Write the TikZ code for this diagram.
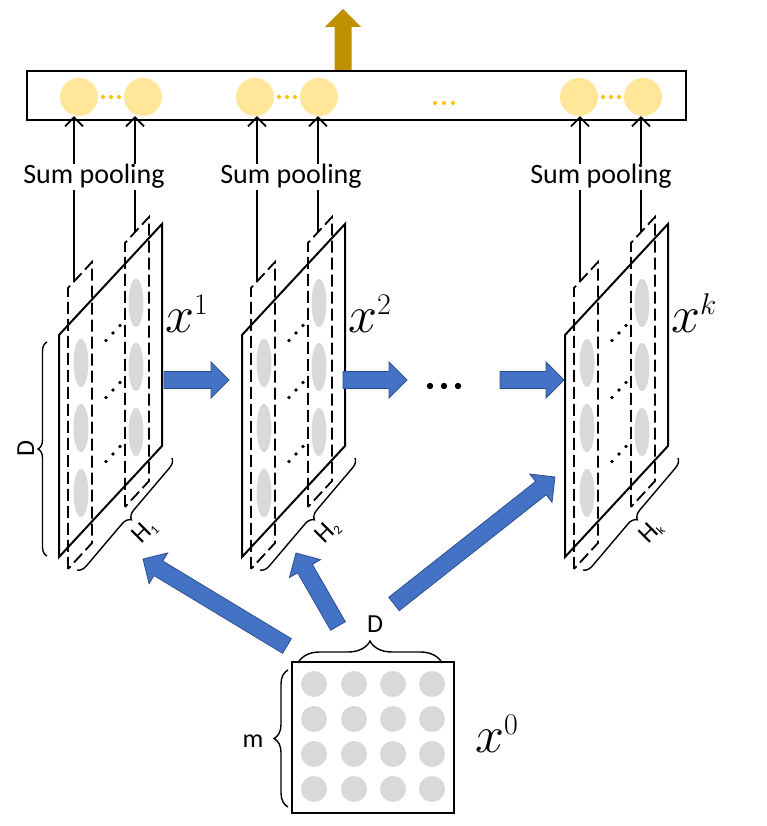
\documentclass[tikz,border=0pt]{standalone}
\usepackage{fix-cm}
\usepackage{fontspec}
\setmainfont{Carlito}
\usetikzlibrary{arrows.meta, positioning, calc, decorations.pathreplacing}

\definecolor{boxblue}{HTML}{4472C4}
\definecolor{edgeblue}{HTML}{2F528F}
\definecolor{cellgray}{HTML}{D9D9D9}
\definecolor{poolyellow}{HTML}{FFE699}
\definecolor{dotorange}{HTML}{FFC000}
\definecolor{outgold}{HTML}{BF9000}

\newcommand{\blockarrow}[3][blockarr]{%
  \path ($(#3)!18pt!(#2)$) coordinate (neck);
  \filldraw[#1] ($(#2)!8.5pt!90:(#3)$) -- ($(neck)!8.5pt!90:(#3)$)
    -- ($(neck)!18pt!90:(#3)$) -- (#3) -- ($(neck)!18pt!-90:(#3)$)
    -- ($(neck)!8.5pt!-90:(#3)$) -- ($(#2)!8.5pt!-90:(#3)$) -- cycle;
}
\newcommand{\featlbl}[1]{$x^{\mbox{\fontsize{30}{30}\selectfont$#1$}}$}

\begin{document}
\begin{tikzpicture}[x=1pt, y=1pt,
  plane/.style={line width=2pt},
  slab/.style={line width=1.8pt, dash pattern=on 12pt off 5pt},
  pool/.style={circle, fill=poolyellow, minimum size=38pt, inner sep=0},
  poolarrow/.style={line width=1.8pt, -{Straight Barb[length=9pt, width=18pt]}},
  poollbl/.style={fill=white, inner sep=1pt, font=\fontsize{28}{28}\selectfont},
  sizelbl/.style={font=\fontsize{26}{26}\selectfont, inner sep=0},
  mathlbl/.style={font=\fontsize{52}{52}\selectfont, inner sep=0},
  sizebrace/.style={decorate, decoration={brace, amplitude=#1}, line width=1.4pt},
  blockarr/.style={fill=boxblue, draw=edgeblue, line width=0.8pt},
  outarr/.style={fill=outgold, draw=none},
]
\useasboundingbox (0,0) rectangle (766,826);

\node[draw, line width=2pt, minimum width=659pt, minimum height=49pt, inner sep=0] (bar) at (356.5,730.5) {};
\foreach \d in {-9,0,9} \fill[dotorange] (444+\d,723) circle (2);

\foreach \xo/\nm/\ca/\cb/\sx in {59/1/79/143/94, 242/2/255/319/291, 565/k/579/643/601}{
  \node[pool] (c\nm a) at (\ca,729) {};
  \node[pool] (c\nm b) at (\cb,729) {};
  \foreach \d in {-8,0,8} \fill[dotorange] ($(c\nm a)!0.5!(c\nm b)+(\d,0)$) circle (2);
  \begin{scope}[shift={(\xo,269)}]
    \foreach \yy in {64,129,194} \fill[cellgray] (22,\yy) ellipse (7.5 and 24);
    \foreach \yy in {125,190,254} \fill[cellgray] (77,\yy) ellipse (7.5 and 24);
    \foreach \yy in {103,167,224} \foreach \t in {-1,0,1} \fill (54+7*\t,\yy+7.5*\t) circle (1.8);
    \draw[slab] (9,-12) -- (9,269) -- (33,295) -- (33,14) -- cycle;
    \draw[slab] (66,50) -- (66,314) -- (90,340) -- (90,76) -- cycle;
    \draw[plane] (0,0) coordinate (p\nm-bl) -- (0,222) -- (103,333) -- (103,111) coordinate (p\nm-br) -- cycle;
    \coordinate (s\nm a) at (15,275.5);
    \coordinate (s\nm b) at (76,325);
    \node[mathlbl, anchor=base west] (x\nm) at (106,224) {\featlbl{\nm}};
    \draw[sizebrace=9pt] (113,99) -- (18,-13);
    \node[sizelbl, rotate=45] (h\nm) at (86,25) {H\raisebox{-3pt}{\fontsize{13}{13}\selectfont \nm}};
  \end{scope}
  \draw[poolarrow] (s\nm a) -- (s\nm a |- c\nm a.south);
  \draw[poolarrow] (s\nm b) -- (s\nm b |- c\nm b.south);
  \node[poollbl, anchor=base] (sp\nm) at (\sx,642) {Sum pooling};
}

\coordinate (outtip) at (343,817);
\coordinate (outbase) at (outtip |- bar.north);
\blockarrow[outarr]{outbase}{outtip}

\draw[sizebrace=9pt] (47,270) -- (47,484);
\node[sizelbl, rotate=90, anchor=base] (dleft) at (34,377) {D};

\coordinate (h1s) at (164,446); \coordinate (h1e) at (229,446);
\coordinate (h2s) at (343,446); \coordinate (h2e) at (407,446);
\coordinate (h3s) at (500,446); \coordinate (h3e) at (564,446);
\blockarrow{h1s}{h1e}
\blockarrow{h2s}{h2e}
\blockarrow{h3s}{h3e}
\foreach \d in {-14,0,14} \fill (444+\d,440) circle (3.2);

\node[draw, line width=2pt, minimum width=162pt, minimum height=151pt, inner sep=0] (x0box) at (373,88.5) {};
\foreach \cx in {314,354,393,432}
  \foreach \cy in {37,72,107,142}
    \fill[cellgray] (\cx,\cy) circle (13);
\draw[sizebrace=22pt] (298,163) -- (442,163);
\node[sizelbl, anchor=base] (dtop) at (375,193) {D};
\draw[sizebrace=14pt] (288,19) -- (288,156);
\node[sizelbl, anchor=base] (mlbl) at (253,78) {m};
\node[mathlbl, anchor=base west] (x0) at (475,73) {\featlbl{0}};

\coordinate (d1s) at (287,180); \coordinate (d1e) at (143,267);
\coordinate (d2s) at (338,200); \coordinate (d2e) at (296,273);
\coordinate (d3s) at (394,222); \coordinate (d3e) at (555,349);
\blockarrow{d1s}{d1e}
\blockarrow{d2s}{d2e}
\blockarrow{d3s}{d3e}
\end{tikzpicture}
\end{document}
